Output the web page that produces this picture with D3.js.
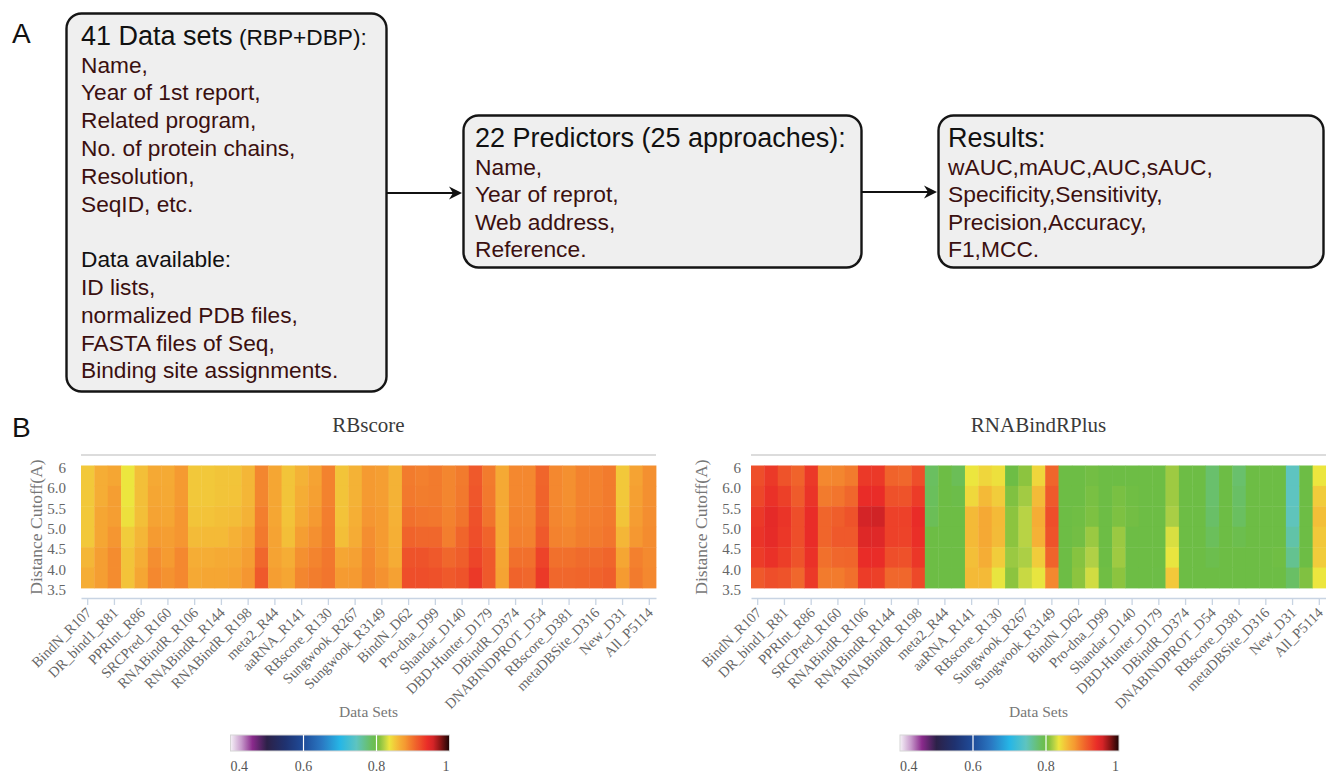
<!DOCTYPE html>
<html>
<head>
<meta charset="utf-8">
<title>Data sets, predictors and heatmaps</title>
<script src="https://cdn.jsdelivr.net/npm/d3@7"></script>
<style>
  body { margin: 0; background: #fff; }
  svg { display: block; }
</style>
</head>
<body>
<script>
// ---- panel A text ----
var box1Title = "41 Data sets";
var box1Sub = " (RBP+DBP):";
var box1Lines = ["Name,", "Year of 1st report,", "Related program,", "No. of protein chains,",
                 "Resolution,", "SeqID, etc.", "", "Data available:", "ID lists,",
                 "normalized PDB files,", "FASTA files of Seq,", "Binding site assignments."];
var box2Title = "22 Predictors (25 approaches):";
var box2Lines = ["Name,", "Year of reprot,", "Web address,", "Reference."];
var box3Title = "Results:";
var box3Lines = ["wAUC,mAUC,AUC,sAUC,", "Specificity,Sensitivity,", "Precision,Accuracy,", "F1,MCC."];

// ---- panel B data ----
// 43 columns; only every other name is printed on the axis
var dataSets = ["BindN_R107", "PRINTR_R109", "DR_bind1_R81", "PPRInt_R246", "PPRInt_R86", "SRCPred_R205",
  "SRCPred_R160", "RNABindR_R109", "RNABindR_R106", "RNABindR_R147", "RNABindR_R144", "RNABindR_R246",
  "RNABindR_R198", "meta2_R116", "meta2_R44", "aaRNA_R205", "aaRNA_R141", "RBscore_R246", "RBscore_R130",
  "Sungwook_R116", "Sungwook_R267", "catRAPID_R44", "Sungwook_R3149", "BindN_D54", "BindN_D62",
  "Pro-dna_D62", "Pro-dna_D99", "Shandar_D62", "Shandar_D140", "DBD-Hunter_D232", "DBD-Hunter_D179",
  "DBindR_D62", "DBindR_D374", "DNABINDPROT_D62", "DNABINDPROT_D54", "RBscore_D316", "RBscore_D381",
  "metaDBSite_D232", "metaDBSite_D316", "New_D62", "New_D31", "All_R1040", "All_P5114"];
var cutoffs = ["6.0", "5.5", "5.0", "4.5", "4.0", "3.5"];          // cell rows, top to bottom
var cutoffTicks = ["6", "6.0", "5.5", "5.0", "4.5", "4.0", "3.5"];  // y labels on row edges

// one array per data set, values for rows 6.0 ... 3.5
var rbscore = [
  [0.85,0.85,0.85,0.85,0.86,0.865], [0.865,0.865,0.87,0.87,0.875,0.875], [0.87,0.875,0.875,0.88,0.885,0.885],
  [0.835,0.835,0.838,0.848,0.852,0.853], [0.855,0.855,0.855,0.86,0.865,0.87], [0.868,0.87,0.872,0.877,0.884,0.887],
  [0.867,0.868,0.87,0.875,0.877,0.882], [0.878,0.878,0.88,0.88,0.887,0.887], [0.85,0.85,0.852,0.857,0.865,0.868],
  [0.85,0.85,0.853,0.858,0.865,0.87], [0.852,0.852,0.855,0.858,0.867,0.87], [0.852,0.853,0.856,0.863,0.868,0.872],
  [0.86,0.86,0.862,0.87,0.875,0.88], [0.888,0.888,0.892,0.895,0.905,0.913], [0.87,0.87,0.87,0.872,0.872,0.875],
  [0.852,0.852,0.853,0.855,0.865,0.87], [0.862,0.865,0.868,0.875,0.883,0.888], [0.872,0.874,0.878,0.883,0.889,0.893],
  [0.89,0.89,0.892,0.893,0.896,0.897], [0.852,0.852,0.853,0.855,0.87,0.877], [0.862,0.862,0.864,0.866,0.873,0.878],
  [0.878,0.878,0.88,0.884,0.887,0.888], [0.875,0.875,0.877,0.877,0.878,0.882], [0.862,0.862,0.863,0.864,0.866,0.873],
  [0.894,0.895,0.9,0.907,0.917,0.92], [0.891,0.893,0.897,0.905,0.917,0.92], [0.894,0.894,0.896,0.905,0.913,0.918],
  [0.888,0.888,0.89,0.892,0.905,0.913], [0.894,0.895,0.898,0.906,0.91,0.917], [0.913,0.915,0.918,0.92,0.925,0.932],
  [0.894,0.895,0.898,0.907,0.913,0.913], [0.868,0.868,0.868,0.868,0.87,0.872], [0.887,0.887,0.889,0.891,0.9,0.907],
  [0.887,0.887,0.888,0.89,0.9,0.905], [0.906,0.907,0.908,0.913,0.926,0.932], [0.887,0.887,0.888,0.89,0.9,0.905],
  [0.883,0.883,0.885,0.888,0.9,0.905], [0.89,0.89,0.891,0.893,0.903,0.906], [0.89,0.89,0.892,0.894,0.903,0.907],
  [0.894,0.894,0.895,0.897,0.906,0.91], [0.85,0.85,0.852,0.86,0.87,0.877], [0.872,0.874,0.876,0.879,0.891,0.894],
  [0.883,0.883,0.884,0.885,0.886,0.887]
];
var rnabindrplus = [
  [0.92,0.924,0.932,0.935,0.93,0.913], [0.932,0.937,0.943,0.942,0.937,0.92], [0.917,0.928,0.935,0.933,0.929,0.917],
  [0.907,0.912,0.92,0.92,0.917,0.905], [0.932,0.935,0.94,0.94,0.937,0.932], [0.887,0.894,0.906,0.906,0.9,0.894],
  [0.888,0.897,0.91,0.913,0.905,0.894], [0.894,0.905,0.917,0.913,0.906,0.9], [0.932,0.94,0.955,0.948,0.94,0.93],
  [0.932,0.94,0.956,0.947,0.94,0.928], [0.907,0.918,0.927,0.927,0.92,0.905], [0.905,0.917,0.927,0.926,0.918,0.905],
  [0.92,0.93,0.94,0.938,0.933,0.923], [0.785,0.787,0.79,0.8,0.8,0.8], [0.8,0.8,0.8,0.8,0.8,0.8],
  [0.79,0.797,0.8,0.8,0.8,0.8], [0.835,0.842,0.858,0.858,0.855,0.858], [0.843,0.858,0.868,0.868,0.865,0.858],
  [0.838,0.848,0.858,0.857,0.848,0.834], [0.8,0.806,0.81,0.81,0.814,0.81], [0.81,0.816,0.822,0.822,0.819,0.826],
  [0.843,0.857,0.865,0.863,0.848,0.834], [0.906,0.913,0.92,0.917,0.907,0.887], [0.8,0.8,0.8,0.8,0.8,0.8],
  [0.8,0.8,0.801,0.802,0.808,0.81], [0.802,0.804,0.805,0.814,0.82,0.828], [0.8,0.8,0.8,0.8,0.8,0.801],
  [0.8,0.804,0.805,0.814,0.815,0.81], [0.8,0.801,0.802,0.8,0.8,0.8], [0.8,0.8,0.8,0.8,0.8,0.8],
  [0.8,0.8,0.8,0.8,0.8,0.799], [0.815,0.815,0.818,0.83,0.834,0.85], [0.8,0.8,0.8,0.8,0.8,0.8],
  [0.8,0.8,0.8,0.8,0.8,0.8], [0.78,0.78,0.782,0.788,0.795,0.8], [0.8,0.8,0.8,0.8,0.8,0.8],
  [0.78,0.783,0.785,0.795,0.8,0.8], [0.8,0.8,0.8,0.8,0.8,0.8], [0.8,0.8,0.8,0.8,0.8,0.8],
  [0.8,0.8,0.8,0.8,0.801,0.8], [0.745,0.745,0.747,0.755,0.765,0.783], [0.8,0.8,0.8,0.8,0.8,0.806],
  [0.835,0.848,0.855,0.85,0.848,0.835]
];

// colour map of the legend bar
var colorStops = [0.40, 0.43, 0.46, 0.50, 0.55, 0.60, 0.65, 0.70, 0.745, 0.785, 0.80, 0.81, 0.82, 0.835,
                  0.85, 0.865, 0.878, 0.89, 0.90, 0.91, 0.92, 0.93, 0.94, 0.955, 0.975, 1.00];
var colorHex = ["#f6f2f8", "#c79acb", "#8a2a8c", "#2c2148", "#1f3270", "#1f4c9a", "#2a78c2", "#26b6e6",
                "#5ec4c0", "#6abf60", "#6dbd45", "#8cc43f", "#b0d046", "#ece63e", "#f2c83a", "#f5ad35",
                "#f59a31", "#f3822e", "#f1702c", "#ef5e2b", "#ee4e2a", "#ec3c28", "#e92c28", "#d42427",
                "#8a1515", "#1a0505"];
var legendTicks = [0.4, 0.6, 0.8, 1];

var W = 1326, H = 776;
var svg = d3.select("body").append("svg").attr("width", W).attr("height", H);

var sans = "'Liberation Sans', Arial, sans-serif";
var serif = "'Liberation Serif', 'Times New Roman', serif";
var maroon = "#3b1010";

// ================= panel A =================
svg.append("text").attr("x", 12).attr("y", 43).text("A")
  .style("font-family", sans).style("font-size", "28px").attr("fill", "#111");
svg.append("text").attr("x", 12).attr("y", 437).text("B")
  .style("font-family", sans).style("font-size", "28px").attr("fill", "#111");

function box(x, y, w, h) {
  svg.append("rect").attr("x", x).attr("y", y).attr("width", w).attr("height", h)
    .attr("rx", 15).attr("ry", 15)
    .attr("fill", "#efefef").attr("stroke", "#151515").attr("stroke-width", 2.4);
}

function arrow(x1, x2, y) {
  svg.append("line").attr("x1", x1).attr("x2", x2 - 6).attr("y1", y).attr("y2", y)
    .attr("stroke", "#111").attr("stroke-width", 2);
  svg.append("path")
    .attr("d", "M" + x2 + "," + y + "L" + (x2 - 13) + "," + (y - 6.5) + "L" + (x2 - 9) + "," + y +
               "L" + (x2 - 13) + "," + (y + 6.5) + "Z")
    .attr("fill", "#111");
}

box(66.5, 13.5, 320, 378);
box(463.5, 115.5, 398, 152);
box(938.5, 115.5, 385, 152);
arrow(386.5, 462, 193);
arrow(861.5, 937, 192);

var t1 = svg.append("text").attr("x", 81).attr("y", 45).style("font-family", sans).attr("fill", "#111");
t1.append("tspan").text(box1Title).style("font-size", "27px");
t1.append("tspan").text(box1Sub).style("font-size", "22.7px");

svg.selectAll("text.b1").data(box1Lines).enter().append("text").attr("class", "b1")
  .attr("x", 81).attr("y", function(d, i) { return 72.7 + i * 27.78; })
  .style("font-family", sans).style("font-size", "22.7px")
  .attr("fill", function(d) { return d == "Data available:" ? "#111" : maroon; })
  .text(function(d) { return d; });

function boxText(x, title, lines) {
  svg.append("text").attr("x", x).attr("y", 147).text(title)
    .style("font-family", sans).style("font-size", "27px").attr("fill", "#111");
  svg.selectAll(null).data(lines).enter().append("text")
    .attr("x", x).attr("y", function(d, i) { return 175 + i * 27.4; })
    .style("font-family", sans).style("font-size", "22.8px").attr("fill", maroon)
    .text(function(d) { return d; });
}
boxText(475, box2Title, box2Lines);
boxText(948, box3Title, box3Lines);

// ================= panel B =================
var color = d3.scaleLinear().domain(colorStops).range(colorHex).clamp(true);

// gradient for the legend bars
var grad = svg.append("defs").append("linearGradient").attr("id", "cbar")
  .attr("x1", "0%").attr("x2", "100%").attr("y1", "0%").attr("y2", "0%");
grad.selectAll("stop").data(colorStops).enter().append("stop")
  .attr("offset", function(d) { return ((d - 0.4) / 0.6 * 100) + "%"; })
  .attr("stop-color", function(d, i) { return colorHex[i]; });

function heatmap(opt) {
  var g = svg.append("g");
  var x = d3.scaleBand().domain(dataSets).range([opt.x0, opt.x1]);
  var y = d3.scaleBand().domain(cutoffs).range([465.5, 588]);
  var yt = d3.scalePoint().domain(cutoffTicks).range([465.5, 588]);

  // title + separator line
  g.append("text").attr("x", (opt.x0 + opt.x1) / 2).attr("y", 432).attr("text-anchor", "middle")
    .style("font-family", serif).style("font-size", "21px").attr("fill", "#3a3a3a").text(opt.title);
  g.append("line").attr("x1", opt.x0).attr("x2", opt.x1).attr("y1", 455).attr("y2", 455)
    .attr("stroke", "#d0d0d0").attr("stroke-width", 1.6);

  var cells = [];
  dataSets.forEach(function(s, i) {
    cutoffs.forEach(function(c, j) { cells.push({ set: s, cut: c, v: opt.values[i][j] }); });
  });
  g.selectAll("rect.cell").data(cells).enter().append("rect").attr("class", "cell")
    .attr("x", function(d) { return x(d.set); })
    .attr("y", function(d) { return y(d.cut); })
    .attr("width", x.bandwidth() + 0.4)
    .attr("height", y.bandwidth() + 0.4)
    .attr("fill", function(d) { return color(d.v); });

  // x axis
  var ax = g.append("g").attr("transform", "translate(0,598)")
    .call(d3.axisBottom(x).tickValues(dataSets.filter(function(d, i) { return i % 2 == 0; }))
      .tickSize(7).tickSizeOuter(0));
  ax.select(".domain").attr("stroke", "#c8d4e3").attr("stroke-width", 1.3);
  ax.selectAll(".tick line").attr("stroke", "#c8d4e3").attr("stroke-width", 1.3);
  ax.selectAll(".tick text")
    .attr("x", 0).attr("y", 0).attr("dy", "0.35em")
    .attr("transform", "translate(1,12) rotate(-45)")
    .style("text-anchor", "end").style("font-family", serif).style("font-size", "14.5px")
    .attr("fill", "#666");

  // y axis
  var ay = g.append("g").attr("transform", "translate(" + (opt.x0 - opt.ypad) + ",2)")
    .call(d3.axisLeft(yt).tickSize(0).tickPadding(0));
  ay.select(".domain").remove();
  ay.selectAll(".tick text").style("font-family", serif).style("font-size", "15px").attr("fill", "#666");

  g.append("text")
    .attr("transform", "translate(" + opt.yname + ",527) rotate(-90)")
    .attr("text-anchor", "middle").attr("dy", "0.35em")
    .style("font-family", serif).style("font-size", "17.5px").attr("fill", "#777")
    .text("Distance Cutoff(A)");

  g.append("text").attr("x", (opt.x0 + opt.x1) / 2).attr("y", 717).attr("text-anchor", "middle")
    .style("font-family", serif).style("font-size", "15.5px").attr("fill", "#777").text("Data Sets");

  // legend bar
  var lx = d3.scaleLinear().domain([0.4, 1]).range([opt.lx0, opt.lx0 + 219]);
  g.append("rect").attr("x", lx(0.4)).attr("y", 735).attr("width", 219).attr("height", 16)
    .attr("fill", "url(#cbar)").attr("stroke", "#d6d6d6").attr("stroke-width", 1);
  g.selectAll("line.lt").data([0.6, 0.8]).enter().append("line").attr("class", "lt")
    .attr("x1", function(d) { return lx(d); }).attr("x2", function(d) { return lx(d); })
    .attr("y1", 735).attr("y2", 751).attr("stroke", "#fff").attr("stroke-width", 1.2);
  g.selectAll("text.ll").data(legendTicks).enter().append("text").attr("class", "ll")
    .attr("x", function(d) { return lx(d); }).attr("y", 771)
    .attr("text-anchor", function(d, i) { return i == 0 ? "start" : (i == legendTicks.length - 1 ? "end" : "middle"); })
    .style("font-family", serif).style("font-size", "14px").attr("fill", "#555")
    .text(function(d) { return d; });
}

heatmap({ title: "RBscore", values: rbscore, x0: 81, x1: 656, ypad: 15, yname: 36, lx0: 230.5 });
heatmap({ title: "RNABindRPlus", values: rnabindrplus, x0: 751, x1: 1326, ypad: 10, yname: 701, lx0: 900 });
</script>
</body>
</html>
